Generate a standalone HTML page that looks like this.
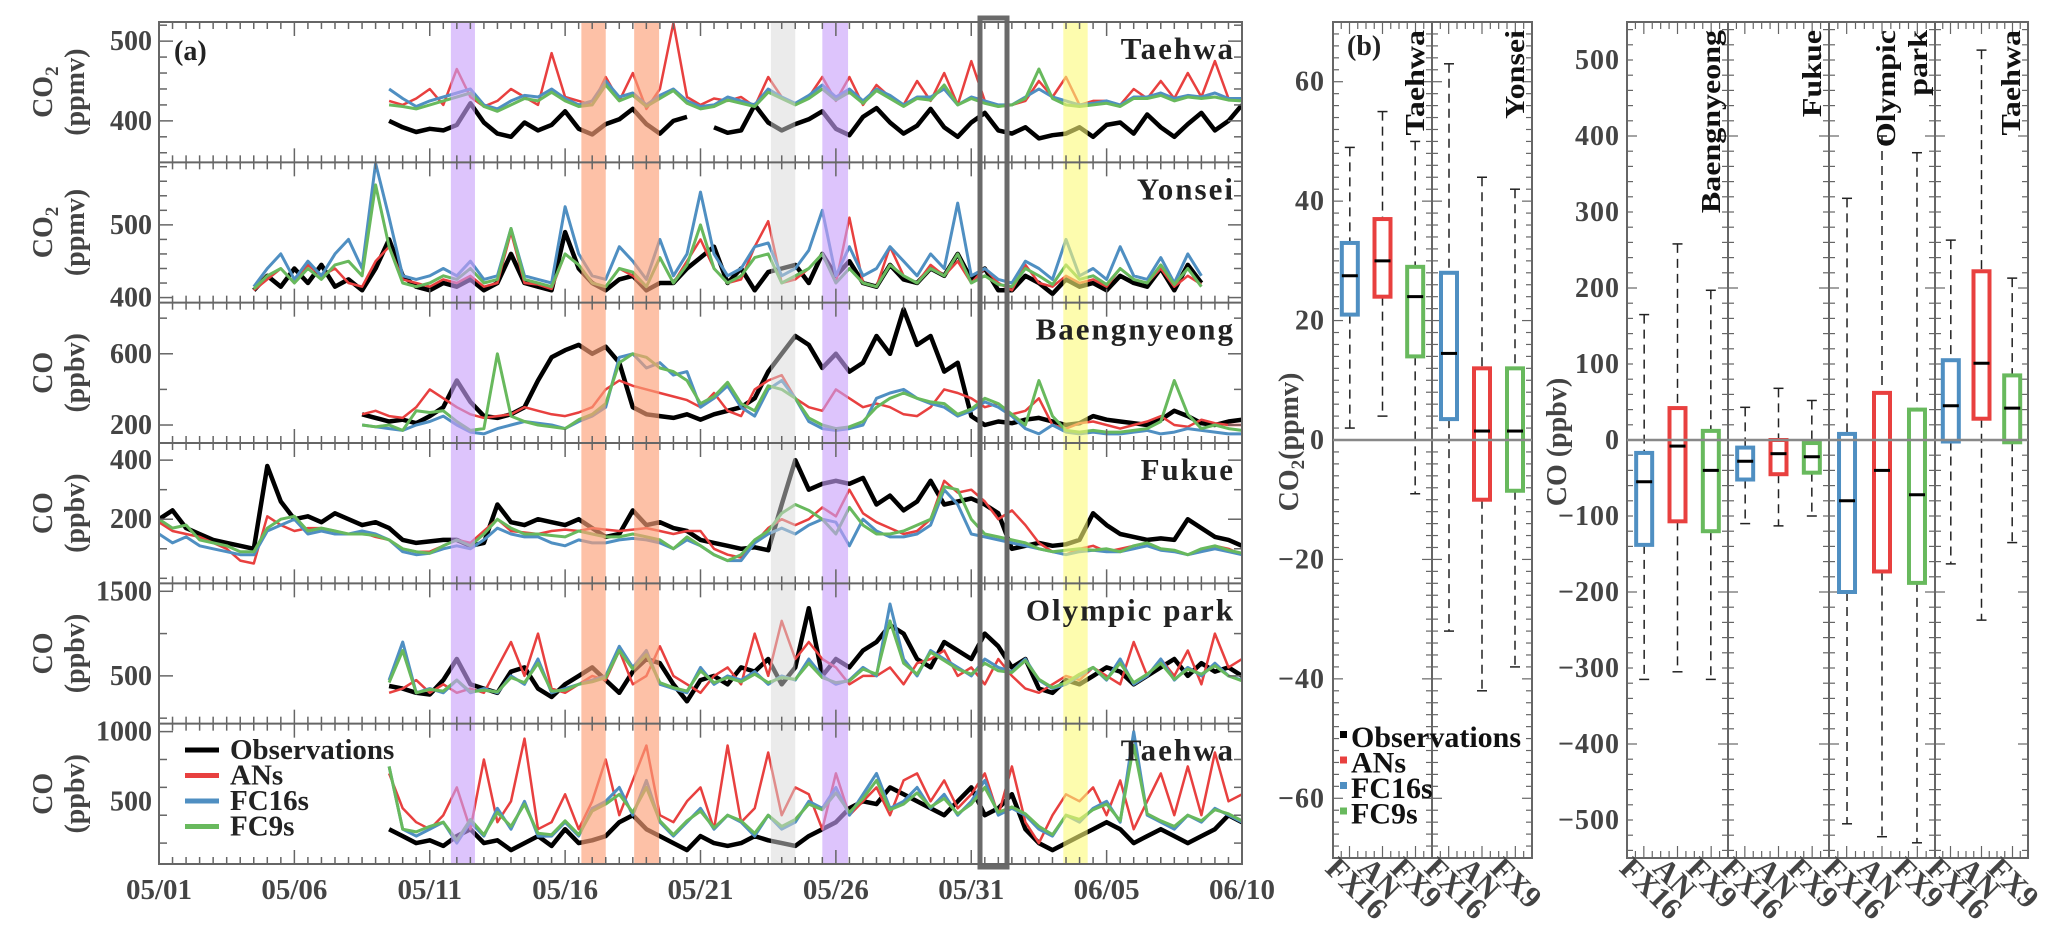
<!DOCTYPE html>
<html><head><meta charset="utf-8"><style>
html,body{margin:0;padding:0;background:#fff;}
svg{display:block;font-family:"Liberation Serif",serif;font-weight:bold;}
svg text{font-family:"Liberation Serif",serif;}
</style></head><body>
<svg id="fig" width="2067" height="932" viewBox="0 0 2067 932" xmlns="http://www.w3.org/2000/svg" font-family="Liberation Serif, serif" font-weight="bold">
<rect x="0" y="0" width="2067" height="932" fill="#fff"/>
<g id="pa"></g>
<g id="pb"></g>
</svg>
<script>
// ---------- Panel (a) data (0.5-day steps starting at rowStart day) ----------
const dateLabels = ["05/01","05/06","05/11","05/16","05/21","05/26","05/31","06/05","06/10"];
const stationNames = ["Taehwa","Yonsei","Baengnyeong","Fukue","Olympic park","Taehwa"];
const species = ["CO2","CO2","CO","CO","CO","CO"];
const units = ["(ppmv)","(ppmv)","(ppbv)","(ppbv)","(ppbv)","(ppbv)"];
const rowMin = [348,393,99,-17,-65,50];
const rowMax = [524,586,887,458,1594,1057];
const rowTickLabels = [[400,500],[400,500],[200,600],[200,400],[500,1500],[500,1000]];
const rowMinorStep = [20,20,200,100,500,200];
const rowStart = [8.5,3.5,7.5,0,8.5,8.5];

const obs1=[400,392,386,390,388,395,422,398,384,380,398,388,395,412,390,383,396,402,415,396,384,400,405,null,392,385,388,420,398,388,396,402,412,390,382,405,416,398,384,394,415,392,380,398,410,388,384,392,378,382,384,392,380,395,398,384,408,392,380,396,410,388,400,420];
const an1=[425,420,428,440,420,465,430,418,425,440,430,420,485,430,425,420,455,425,460,415,440,525,430,420,428,425,430,418,455,430,420,430,455,425,455,420,445,430,420,450,425,460,420,475,425,418,420,425,450,430,455,420,425,425,420,440,428,450,428,460,430,475,428,425];
const fc16_1=[440,428,418,425,430,435,440,420,415,425,432,430,440,428,420,425,450,430,435,420,432,440,425,418,420,430,425,420,440,430,422,432,445,430,440,425,440,432,420,430,430,440,420,430,425,420,420,430,440,430,425,420,422,425,420,430,430,435,428,432,430,435,428,428];
const fc9_1=[420,418,415,420,425,430,435,418,412,420,428,425,436,425,418,420,445,425,432,418,428,438,422,415,418,426,422,418,436,428,420,428,440,426,436,422,438,428,418,428,426,445,420,428,422,418,420,428,465,428,420,418,420,422,418,428,428,432,425,430,428,430,426,425];

const obs2=[410,430,415,440,420,445,415,425,410,440,480,430,415,410,420,415,425,410,420,460,420,415,410,490,440,420,410,425,430,410,420,420,440,455,470,420,440,410,435,440,445,420,460,430,450,420,415,445,425,420,440,430,460,425,440,410,410,430,420,405,425,415,420,410,430,420,415,440,410,445,420];
const an2=[410,425,440,420,445,430,440,420,415,450,470,425,420,415,425,420,430,415,420,490,420,418,412,460,445,420,415,440,430,415,455,420,450,480,440,420,425,470,505,420,425,440,460,420,510,420,415,470,430,420,445,430,450,420,440,420,410,445,420,415,430,420,425,415,440,425,420,440,415,430,418];
const fc16_2=[415,440,460,425,450,430,460,480,440,590,510,430,425,430,440,430,450,425,430,495,430,425,420,525,460,430,425,470,450,425,480,430,460,545,460,430,440,470,475,430,440,465,520,430,470,430,440,470,450,430,460,440,530,430,440,425,420,450,440,425,480,430,440,425,470,430,425,455,420,460,430];
const fc9_2=[412,430,440,420,440,425,445,450,430,555,470,420,415,420,430,425,440,420,425,495,425,420,415,460,445,420,415,440,435,415,455,420,445,500,440,420,430,455,460,420,430,440,460,420,440,420,415,445,430,420,440,430,460,420,430,418,415,440,430,418,445,425,430,418,440,425,420,445,418,440,415];

const obs3=[260,240,220,230,210,250,300,450,330,250,240,260,300,450,580,620,650,600,640,550,300,260,250,240,260,230,260,280,300,350,500,600,700,650,520,600,500,550,700,600,850,650,700,500,550,250,200,220,210,230,240,220,200,210,250,230,220,210,200,230,280,250,210,200,220,230];
const an3=[260,280,250,240,300,400,350,300,260,240,250,260,300,280,260,250,270,300,400,450,420,400,380,360,340,300,380,280,250,400,450,480,350,300,280,400,350,300,320,300,260,250,300,400,380,350,300,320,260,280,350,200,180,210,220,200,180,200,220,250,200,190,230,210,200,200];
const fc16_3=[200,190,180,170,200,220,250,200,160,150,180,200,220,210,200,180,220,250,300,580,600,520,550,480,500,300,350,420,300,250,400,450,350,220,180,170,180,200,350,380,400,350,320,300,250,280,330,300,250,180,150,200,160,150,160,150,150,160,170,150,160,180,170,160,150,150];
const fc9_3=[200,190,200,170,280,270,280,220,170,180,600,250,220,200,190,180,230,260,320,550,600,580,520,500,450,320,360,440,320,280,420,400,350,240,200,180,190,220,300,350,380,350,330,320,260,290,350,320,260,200,450,250,170,160,170,160,160,170,180,220,450,260,180,200,180,170];

const obs4=[200,230,170,150,130,120,110,100,380,260,200,210,190,220,200,180,190,170,130,120,125,130,130,110,120,250,190,180,200,190,180,200,170,140,150,230,180,190,170,160,130,120,110,100,105,95,250,400,300,320,330,320,340,250,280,230,260,330,250,260,270,250,220,100,110,120,110,115,130,220,180,150,140,130,135,130,200,170,140,130,110];
const an4=[190,160,150,140,120,100,60,50,210,180,160,170,170,160,150,155,140,130,100,90,90,110,130,120,160,200,160,155,150,160,165,160,170,165,160,165,170,160,150,160,160,100,80,70,120,170,200,180,200,240,210,300,220,190,170,150,160,200,330,290,300,260,200,230,180,120,90,80,100,110,90,100,110,120,100,90,80,90,110,100,80];
const fc16_4=[150,120,140,110,100,90,80,80,160,180,200,150,160,150,150,160,150,130,90,80,85,100,110,100,130,170,150,140,140,120,110,130,120,120,130,135,130,120,100,130,110,80,60,60,120,150,170,150,180,200,190,110,200,160,140,140,150,180,300,250,150,140,130,120,110,100,90,80,90,95,90,90,100,110,95,90,80,90,100,90,80];
const fc9_4=[200,170,180,130,120,110,90,90,170,200,210,160,170,160,150,150,145,130,100,90,85,110,130,110,150,200,170,150,150,145,140,160,150,140,140,150,140,130,100,140,110,80,60,80,130,160,220,250,230,200,150,240,180,150,150,160,180,200,310,300,200,150,140,130,120,100,90,95,100,95,100,90,110,120,100,95,80,100,110,95,85];

const obs5=[380,350,300,280,450,700,400,350,300,550,600,350,250,400,500,600,450,300,550,700,650,400,200,450,500,400,600,550,700,400,600,1300,500,700,600,800,900,1100,1000,700,600,900,800,700,1000,850,600,700,350,300,450,400,500,600,550,400,500,600,700,500,650,550,600,500];
const an5=[300,350,450,300,400,300,350,300,600,900,500,1000,350,300,400,500,450,800,400,500,850,500,400,300,500,600,400,1000,500,1150,700,900,700,600,400,500,500,600,400,650,700,800,500,600,400,700,500,350,300,400,500,450,600,500,400,900,500,700,500,800,400,1000,600,700];
const fc16_5=[450,900,300,350,300,450,300,350,300,500,400,700,300,350,400,450,500,850,600,800,400,350,300,600,400,500,450,550,400,500,450,700,500,400,450,600,500,1350,700,500,800,700,600,500,700,600,550,700,450,350,400,500,600,450,700,400,500,700,450,600,500,650,500,450];
const fc9_5=[420,800,300,340,320,450,310,330,310,480,420,650,320,330,400,430,480,800,580,750,420,360,320,560,420,480,430,520,420,480,460,650,480,420,440,580,520,1150,650,520,780,680,580,520,650,560,540,680,460,360,420,520,600,460,650,420,520,650,460,580,520,620,500,440];

const obs6=[300,250,200,220,180,250,300,200,220,150,200,250,180,300,200,220,250,350,400,300,250,200,150,250,200,180,200,250,220,200,180,250,300,350,450,500,480,600,550,500,450,400,500,600,400,450,550,300,200,150,200,250,300,350,300,200,250,300,250,200,250,300,400,350];
const an6=[700,450,350,300,400,600,300,800,350,500,950,300,350,550,300,500,800,400,650,900,400,350,500,600,300,900,350,450,850,400,600,550,300,700,400,500,600,400,650,700,500,650,450,550,700,400,750,350,200,400,550,500,600,400,650,300,500,700,400,750,400,850,500,550];
const fc16_6=[750,300,250,300,350,200,350,250,450,300,500,250,250,350,250,450,500,600,400,650,350,250,350,450,300,400,350,250,400,300,350,500,450,600,400,550,700,450,500,600,450,550,400,500,650,400,450,400,300,250,400,350,450,500,350,1000,400,350,300,400,350,450,400,350];
const fc9_6=[750,300,280,320,350,220,370,260,420,320,480,270,260,360,260,430,480,550,420,600,360,260,360,430,310,400,360,270,400,320,370,480,440,560,420,520,650,440,480,560,460,520,410,480,600,420,460,410,320,260,400,370,440,480,360,900,410,360,320,400,360,440,410,360];

const obsRows=[obs1,obs2,obs3,obs4,obs5,obs6];
const anRows=[an1,an2,an3,an4,an5,an6];
const fc16Rows=[fc16_1,fc16_2,fc16_3,fc16_4,fc16_5,fc16_6];
const fc9Rows=[fc9_1,fc9_2,fc9_3,fc9_4,fc9_5,fc9_6];

const bandStart=[10.78,15.6,17.55,22.6,24.5,33.4];
const bandEnd=[11.67,16.5,18.47,23.5,25.45,34.3];
const bandKind=["purple","orange","orange","gray","purple","yellow"];

// ---------- Panel (b) data ----------
const co2Stations=["Taehwa","Yonsei"];
const coStations=["Baengnyeong","Fukue","Olympic park","Taehwa"];
const boxCats=["FX16","AN","FX9"];
const co2Med=[[27.5,30,24],[14.5,1.5,1.5]];
const co2Q1=[[21,24,14],[3.5,-10,-8.5]];
const co2Q3=[[33,37,29],[28,12,12]];
const co2Lo=[[2,4,-9],[-32,-42,-38]];
const co2Hi=[[49,55,50],[63,44,42]];
const coMed=[[-55,-8,-40],[-28,-18,-22],[-80,-40,-72],[45,101,42]];
const coQ1=[[-138,-107,-120],[-52,-45,-43],[-200,-173,-188],[-2,28,-3]];
const coQ3=[[-17,42,12],[-10,0,-4],[8,62,40],[105,222,85]];
const coLo=[[-315,-305,-315],[-110,-113,-100],[-505,-522,-530],[-163,-237,-135]];
const coHi=[[165,258,197],[43,68,52],[318,400,378],[263,513,213]];
const co2Ticks=[-60,-40,-20,0,20,40,60];
const coTicks=[-500,-400,-300,-200,-100,0,100,200,300,400,500];

const NS="http://www.w3.org/2000/svg";
function mk(tag,attrs,parent){const e=document.createElementNS(NS,tag);for(const k in attrs)e.setAttribute(k,attrs[k]);parent.appendChild(e);return e;}
const COL={obs:"#000",an:"#e8403f",fc16:"#4f8fc2",fc9:"#68b95d",axis:"#666",txt:"#444"};

// ===== Panel a =====
const pa=document.getElementById("pa");
const AX0=159,AX1=1242,AY0=22,AY1=864,NDAYS=40;
const rowH=(AY1-AY0)/6;
const xDay=d=>AX0+(d/NDAYS)*(AX1-AX0);
function yRow(r,v){const top=AY0+r*rowH;return top+rowH-(v-rowMin[r])/(rowMax[r]-rowMin[r])*rowH;}

const clip=mk("clipPath",{id:"clipA"},mk("defs",{},pa));
mk("rect",{x:AX0,y:AY0,width:AX1-AX0,height:AY1-AY0},clip);
const lines=mk("g",{"clip-path":"url(#clipA)"},pa);



function drawSeries(r,arr,color,w,name){
  let d="",pen=false;
  arr.forEach((v,i)=>{
    if(v===null){pen=false;return;}
    const x=xDay(rowStart[r]+i*0.5),y=Math.max(AY0+r*rowH+1,Math.min(AY0+(r+1)*rowH-1,yRow(r,v)));
    d+=(pen?"L":"M")+x.toFixed(1)+" "+y.toFixed(1)+" ";pen=true;
  });
  const p=mk("path",{d:d,fill:"none",stroke:color,"stroke-width":w,"stroke-linejoin":"round"},lines);
  
  
}
for(let r=0;r<6;r++){
  drawSeries(r,obsRows[r],COL.obs,4.5,"observations-line-row"+(r+1));
  drawSeries(r,anRows[r],COL.an,2.5,"ans-line-row"+(r+1));
  drawSeries(r,fc16Rows[r],COL.fc16,3,"fc16s-line-row"+(r+1));
  drawSeries(r,fc9Rows[r],COL.fc9,3,"fc9s-line-row"+(r+1));
}
const bandFill={purple:"rgba(200,160,250,0.62)",orange:"rgba(252,160,120,0.65)",gray:"rgba(215,215,215,0.5)",yellow:"rgba(252,250,120,0.6)"};
bandStart.forEach((s,i)=>{
  const b=mk("rect",{x:xDay(s),y:AY0,width:xDay(bandEnd[i])-xDay(s),height:AY1-AY0,fill:bandFill[bandKind[i]]},pa);
  
  
});
const hb=mk("rect",{x:980,y:18,width:27,height:849,fill:"none",stroke:"#6a6a6a","stroke-width":5},pa);



const fr=mk("rect",{x:AX0,y:AY0,width:AX1-AX0,height:AY1-AY0,fill:"none",stroke:COL.axis,"stroke-width":2},pa);


for(let r=0;r<6;r++){
  const top=AY0+r*rowH,bot=top+rowH;
  if(r>0){const l=mk("line",{x1:AX0,x2:AX1,y1:top,y2:top,stroke:COL.axis,"stroke-width":2},pa);}
  for(let d=0;d<=NDAYS;d+=0.5){
    const major=(d%5===0),len=major?14:7,x=xDay(d);
    mk("line",{x1:x,x2:x,y1:top,y2:top+len,stroke:COL.axis,"stroke-width":1.5},pa);
    mk("line",{x1:x,x2:x,y1:bot,y2:bot-len,stroke:COL.axis,"stroke-width":1.5},pa);
  }
  const st=rowMinorStep[r];
  for(let v=Math.ceil(rowMin[r]/st)*st;v<=rowMax[r];v+=st){
    const y=yRow(r,v),lab=rowTickLabels[r].includes(v),len=lab?14:8;
    mk("line",{x1:AX0,x2:AX0+len,y1:y,y2:y,stroke:COL.axis,"stroke-width":1.5},pa);
    mk("line",{x1:AX1,x2:AX1-len,y1:y,y2:y,stroke:COL.axis,"stroke-width":1.5},pa);
  }
  rowTickLabels[r].forEach(v=>{
    const t=mk("text",{x:152,y:yRow(r,v)+9,"text-anchor":"end","font-size":28,fill:COL.txt},pa);
    t.textContent=v;
    
    
  });
  const cy=top+rowH/2;
  const t1=mk("text",{transform:`translate(52,${cy}) rotate(-90)`,"text-anchor":"middle","font-size":28,fill:COL.txt},pa);
  if(species[r]==="CO2"){t1.innerHTML='CO<tspan font-size="19" dy="6">2</tspan>';}else{t1.textContent="CO";}
  
  
  const t2=mk("text",{transform:`translate(84,${cy}) rotate(-90)`,"text-anchor":"middle","font-size":28,fill:COL.txt},pa);
  t2.textContent=units[r];
  
  
  const sn=mk("text",{x:1235,y:top+37,"text-anchor":"end","font-size":31,fill:"#222","letter-spacing":"2"},pa);
  sn.textContent=stationNames[r];
  
  
}
dateLabels.forEach((s,i)=>{
  const t=mk("text",{x:xDay(i*5),y:899,"text-anchor":"middle","font-size":29,fill:COL.txt},pa);
  t.textContent=s;
  
  
});
const la=mk("text",{x:174,y:60,"font-size":28,fill:"#222"},pa);la.textContent="(a)";


const legA=mk("g",{},pa);


[["Observations",COL.obs],["ANs",COL.an],["FC16s",COL.fc16],["FC9s",COL.fc9]].forEach((e,i)=>{
  const y=750+i*25.5;
  mk("line",{x1:185,x2:219,y1:y,y2:y,stroke:e[1],"stroke-width":5},legA);
  const t=mk("text",{x:230,y:y+9,"font-size":29,fill:"#222"},legA);t.textContent=e[0];
  
  
});

// ===== Panel b =====
const pb=document.getElementById("pb");
const BY0=22,BY1=858;
const yCO2=v=>BY0+(70-v)/140*(BY1-BY0);
const yCO=v=>BY0+(550-v)/1100*(BY1-BY0);
function drawGroup(x0,x1,scale,med,q1,q3,lo,hi,name,labelLines,minorStep,range){
  const g=mk("g",{},pb);
  
  
  mk("rect",{x:x0,y:BY0,width:x1-x0,height:BY1-BY0,fill:"none",stroke:COL.axis,"stroke-width":2},g);
  for(let v=-range;v<=range;v+=minorStep){
    const y=scale(v),len=(Math.round(v/minorStep)%10===0)?10:6;
    mk("line",{x1:x0,x2:x0+len,y1:y,y2:y,stroke:COL.axis,"stroke-width":1.2},g);
    mk("line",{x1:x1,x2:x1-len,y1:y,y2:y,stroke:COL.axis,"stroke-width":1.2},g);
  }
  const w=x1-x0;
  const cx=[x0+w*0.17,x0+w*0.5,x0+w*0.83];
  for(let k=0;k<=12;k++){const x=x0+w*k/12,l=(k%4===2)?12:7;mk("line",{x1:x,x2:x,y1:BY1,y2:BY1-l,stroke:COL.axis,"stroke-width":1.2},g);mk("line",{x1:x,x2:x,y1:BY0,y2:BY0+l,stroke:COL.axis,"stroke-width":1.2},g);}
  const cols=[COL.fc16,COL.an,COL.fc9];
  for(let i=0;i<3;i++){
    const c=cx[i];
    mk("line",{x1:c,x2:c,y1:scale(hi[i]),y2:scale(q3[i]),stroke:"#222","stroke-width":1.5,"stroke-dasharray":"9,6"},g);
    mk("line",{x1:c,x2:c,y1:scale(q1[i]),y2:scale(lo[i]),stroke:"#222","stroke-width":1.5,"stroke-dasharray":"9,6"},g);
    mk("line",{x1:c-5,x2:c+5,y1:scale(hi[i]),y2:scale(hi[i]),stroke:"#222","stroke-width":1.5},g);
    mk("line",{x1:c-5,x2:c+5,y1:scale(lo[i]),y2:scale(lo[i]),stroke:"#222","stroke-width":1.5},g);
    const b=mk("rect",{x:c-8,y:scale(q3[i]),width:16,height:scale(q1[i])-scale(q3[i]),fill:"#fff",stroke:cols[i],"stroke-width":4},g);
    
    
    mk("line",{x1:c-8,x2:c+8,y1:scale(med[i]),y2:scale(med[i]),stroke:"#000","stroke-width":3},g);
    const t=mk("text",{transform:`translate(${c-26},${BY1+12}) rotate(45)`,"font-size":31,fill:COL.txt},g);
    t.textContent=boxCats[i];
    
    
  }
  labelLines.forEach((s,j)=>{
    const t=mk("text",{transform:`translate(${x1-8-(labelLines.length-1-j)*32},${BY0+8}) rotate(-90) scale(1,0.85)`,"text-anchor":"end","font-size":32,fill:"#111"},g);
    t.textContent=s;
    
    
  });
}
const co2X=[1333,1432,1532];
co2Stations.forEach((s,i)=>drawGroup(co2X[i],co2X[i+1],yCO2,co2Med[i],co2Q1[i],co2Q3[i],co2Lo[i],co2Hi[i],"co2-"+s,[s],2,70));
const coX=[1627,1728,1829,1935,2028];
const coLabelLines=[["Baengnyeong"],["Fukue"],["Olympic","park"],["Taehwa"]];
coStations.forEach((s,i)=>drawGroup(coX[i],coX[i+1],yCO,coMed[i],coQ1[i],coQ3[i],coLo[i],coHi[i],"co-"+s.replace(" ","-"),coLabelLines[i],20,540));
const z1=mk("line",{x1:1333,x2:1532,y1:yCO2(0),y2:yCO2(0),stroke:"#888","stroke-width":2.5},pb);

const z2=mk("line",{x1:1627,x2:2028,y1:yCO(0),y2:yCO(0),stroke:"#888","stroke-width":2.5},pb);

co2Ticks.forEach(v=>{
  const t=mk("text",{x:1325,y:yCO2(v)+9,"text-anchor":"end","font-size":28,fill:COL.txt,"letter-spacing":"1"},pb);
  t.textContent=(v<0?"\u2212":"")+Math.abs(v);
  
  
});
coTicks.forEach(v=>{
  const t=mk("text",{x:1620,y:yCO(v)+9,"text-anchor":"end","font-size":28,fill:COL.txt,"letter-spacing":"1"},pb);
  t.textContent=(v<0?"\u2212":"")+Math.abs(v);
  
  
});
const yt1=mk("text",{transform:`translate(1298,442) rotate(-90)`,"text-anchor":"middle","font-size":28,fill:COL.txt},pb);
yt1.innerHTML='CO<tspan font-size="19" dy="6">2</tspan><tspan dy="-6">(ppmv)</tspan>';

const yt2=mk("text",{transform:`translate(1566,442) rotate(-90)`,"text-anchor":"middle","font-size":28,fill:COL.txt},pb);
yt2.textContent="CO (ppbv)";

const lb=mk("text",{x:1347,y:55,"font-size":28,fill:"#222"},pb);lb.textContent="(b)";

const legB=mk("g",{},pb);


[["Observations",COL.obs],["ANs",COL.an],["FC16s",COL.fc16],["FC9s",COL.fc9]].forEach((e,i)=>{
  const y=747+i*25.5;
  mk("rect",{x:1340,y:y-16,width:7,height:7,fill:e[1]},legB);
  const t=mk("text",{x:1351,y:y,"font-size":30,fill:"#111"},legB);t.textContent=e[0];
  
  
});
</script>
</body></html>
